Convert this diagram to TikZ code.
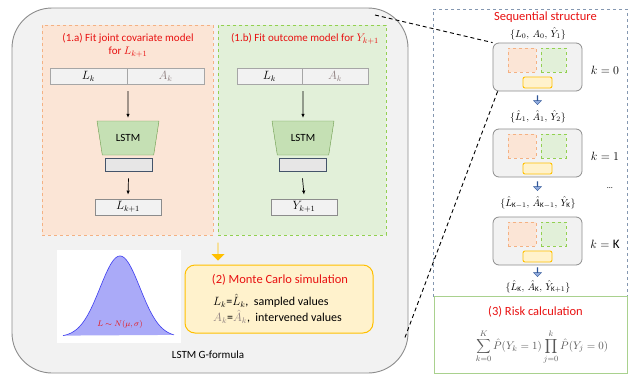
\documentclass[tikz,border=0pt]{standalone}
\usepackage{fontspec}
\setmainfont{Carlito}
\usetikzlibrary{shapes.geometric,shapes.arrows,arrows.meta}

\definecolor{mainfill}{HTML}{F2F2F2}
\definecolor{mainline}{HTML}{8C8C8C}
\definecolor{covfill}{HTML}{FBE5D6}
\definecolor{covline}{HTML}{F4B183}
\definecolor{yfill}{HTML}{E2F0D9}
\definecolor{yline}{HTML}{92D050}
\definecolor{lstmfill}{HTML}{C5E0B4}
\definecolor{lstmline}{HTML}{6A9A4A}
\definecolor{hidfill}{HTML}{E7E6E6}
\definecolor{hidline}{HTML}{44546A}
\definecolor{cellline}{HTML}{A6A6A6}
\definecolor{titlered}{HTML}{E81010}
\definecolor{agray}{HTML}{8E7F7F}
\definecolor{gold}{HTML}{FFC000}
\definecolor{mcfill}{HTML}{FFF2CC}
\definecolor{gaussfill}{HTML}{AAAAF8}
\definecolor{gaussline}{HTML}{3C3CF0}
\definecolor{seqline}{HTML}{8497B0}
\definecolor{riskline}{HTML}{A9D18E}
\definecolor{bluearr}{HTML}{8FAADC}
\definecolor{bluearrline}{HTML}{2F5597}
\definecolor{formgray}{HTML}{595959}

\tikzstyle{mainbox}=[draw=mainline, fill=mainfill, line width=0.9pt, rounded corners=40pt, minimum width=396pt, minimum height=365pt]
\tikzstyle{covbox}=[draw=covline, fill=covfill, dashed, line width=0.7pt, minimum width=171pt, minimum height=210pt]
\tikzstyle{ybox}=[draw=yline, fill=yfill, dashed, line width=0.7pt, minimum width=168pt, minimum height=210pt]
\tikzstyle{title}=[text=titlered, font=\fontsize{11}{13}\selectfont, align=center, inner sep=1pt]
\tikzstyle{cell}=[draw=cellline, fill=mainfill, line width=0.8pt, minimum height=16pt, inner sep=0pt, font=\fontsize{12}{14}\selectfont]
\tikzstyle{lstm}=[trapezium, shape border rotate=180, trapezium angle=77, trapezium stretches=true, draw=lstmline, fill=lstmfill, minimum width=62pt, minimum height=34pt, font=\fontsize{11}{13}\selectfont]
\tikzstyle{hid}=[draw=hidline, fill=hidfill, line width=0.8pt, minimum width=47pt, minimum height=13pt, inner sep=0pt]
\tikzstyle{outcell}=[draw=mainline, fill=mainfill, line width=0.8pt, minimum width=66pt, minimum height=16pt, inner sep=0pt, font=\fontsize{12}{14}\selectfont]
\tikzstyle{arr}=[-{Latex[length=4pt,width=3.5pt]}, line width=0.7pt]
\tikzstyle{mcbox}=[draw=gold, fill=mcfill, line width=1pt, rounded corners=10pt, minimum width=188pt, minimum height=68pt]
\tikzstyle{mctext}=[anchor=west, inner sep=0pt, font=\fontsize{12}{14}\selectfont]
\tikzstyle{seqbox}=[draw=seqline, dashed, line width=0.8pt, minimum width=194pt, minimum height=287pt]
\tikzstyle{riskbox}=[draw=riskline, line width=0.8pt, minimum width=193pt, minimum height=77pt]
\tikzstyle{block}=[draw=mainline, fill=mainfill, line width=0.8pt, rounded corners=6pt, minimum width=89pt, minimum height=48pt]
\tikzstyle{minicov}=[draw=covline, fill=covfill, dashed, line width=0.6pt, minimum width=28pt, minimum height=24pt]
\tikzstyle{miniy}=[draw=yline, fill=yfill, dashed, line width=0.6pt, minimum width=25pt, minimum height=24pt]
\tikzstyle{minimc}=[draw=gold, fill=mcfill, line width=0.9pt, rounded corners=2pt, minimum width=29pt, minimum height=11pt]
\tikzstyle{setlab}=[font=\fontsize{10}{12}\selectfont, inner sep=1pt]
\tikzstyle{klab}=[font=\fontsize{13}{15}\selectfont]
\tikzstyle{downblue}=[single arrow, shape border rotate=270, draw=bluearrline, fill=bluearr, minimum height=9pt, minimum width=8pt, single arrow head extend=2pt, inner sep=0pt, line width=0.4pt]
\tikzstyle{zoomline}=[dash pattern=on 4pt off 3pt, line width=0.9pt]

\begin{document}
\begin{tikzpicture}[x=1pt, y=-1pt]
\useasboundingbox (0,0) rectangle (628,375);

\node[mainbox] (main) at (210,190.5) {};
\node[covbox] (cov) at (127.5,130) {};
\node[ybox] (out) at (302,130) {};

\node[title] (covtitle) at (128,45.5) {(1.a) Fit joint covariate model\\for $L_{k+1}$};
\node[title] (outtitle) at (305,39) {(1.b) Fit outcome model for $Y_{k+1}$};

\node[cell, minimum width=77pt] (cl) at (88.5,76) {$L_k$};
\node[cell, minimum width=77pt, text=agray] (ca) at (165.5,76) {$A_k$};
\node[cell, minimum width=65pt] (ol) at (269.5,76) {$L_k$};
\node[cell, minimum width=66pt, text=agray] (oa) at (335,76) {$A_k$};

\node[lstm] (lstmc) at (128,138) {LSTM};
\node[lstm] (lstmo) at (303,138) {LSTM};
\node[hid] (hidc) at (128.5,164.5) {};
\node[hid] (hido) at (302.5,164.5) {};
\node[outcell] (lnext) at (128,207) {$L_{k+1}$};
\node[outcell] (ynext) at (304,207) {$Y_{k+1}$};

\coordinate (sc) at (128,91);
\coordinate (so) at (303,91);
\draw[arr] (sc) -- ([yshift=3pt]lstmc.north);
\draw[arr] (so) -- ([yshift=3pt]lstmo.north);
\draw[arr] ([yshift=-7pt]hidc.south) -- ([yshift=4pt]lnext.north);
\draw[arr] ([yshift=-7pt]hido.south) -- ([yshift=4pt]ynext.north);

\node[single arrow, shape border rotate=270, fill=gold, minimum height=18pt, minimum width=13pt, single arrow head extend=3pt, inner sep=0pt] (mcdown) at (218,251.5) {};
\node[mcbox] (mc) at (279,299) {};
\node[title, font=\fontsize{12.5}{14}\selectfont] (mctitle) at (280,280) {(2) Monte Carlo simulation};
\node[mctext] (mcl) at (213,301) {$L_k$=$\hat{L}_k$,\ \ sampled values};
\node[mctext] (mca) at (213,317) {$\textcolor{agray}{A_k}$=$\textcolor{agray}{\hat{A}_k}$,\ \ intervened values};

\node[fill=white, minimum width=124pt, minimum height=93pt] (gauss) at (119,296.5) {};
\fill[gaussfill] plot[domain=63:174, samples=90] (\x, {337-81*exp(-((\x-120)/20)^2/2)}) -- cycle;
\draw[gaussline, line width=0.6pt] plot[domain=63:174, samples=90] (\x, {337-81*exp(-((\x-120)/20)^2/2)});
\node[text=titlered, font=\footnotesize] (glabel) at (120,324) {$L\sim N(\mu,\sigma)$};
\node[font=\fontsize{11}{13}\selectfont] (gname) at (208,355) {LSTM G-formula};

\node[seqbox] (seq) at (530,152.5) {};
\node[riskbox] (risk) at (530.5,334.5) {};
\node[title, font=\fontsize{12.5}{14}\selectfont] (seqtitle) at (545.5,17) {Sequential structure};

\foreach \n/\y/\k in {b0/67/0, b1/153/1, bK/241/\mathrm{K}} {
  \node[block] (\n) at (537.5,\y) {};
  \node[minicov] (\n c) at (522,\y-7) {};
  \node[miniy] (\n y) at (553.5,\y-7) {};
  \node[minimc] (\n m) at (537.5,\y+15.5) {};
  \node[klab] (\n k) at (605,\y+3) {$k=\k$};
}

\node[setlab] (set0) at (538,34) {$\{L_0,\,A_0,\,\hat{Y}_1\}$};
\node[downblue] (d0) at (537.5,100) {};
\node[setlab] (set1) at (538,117) {$\{\hat{L}_1,\,\hat{A}_1,\,\hat{Y}_2\}$};
\node[downblue] (d1) at (537.5,186) {};
\node (dots) at (610,188) {\footnotesize\dots};
\node[setlab] (setk1) at (538,203) {$\{\hat{L}_{\mathrm{K}-1},\,\hat{A}_{\mathrm{K}-1},\,\hat{Y}_{\mathrm{K}}\}$};
\node[downblue] (d2) at (537.5,272) {};
\node[setlab] (setk) at (538,287) {$\{\hat{L}_{\mathrm{K}},\,\hat{A}_{\mathrm{K}},\,\hat{Y}_{\mathrm{K}+1}\}$};

\node[title, font=\fontsize{12.5}{14}\selectfont] (risktitle) at (535.5,312) {(3) Risk calculation};
\node[text=formgray, font=\fontsize{11}{13}\selectfont] (riskf) at (542,347) {$\displaystyle\sum_{k=0}^{K}\hat{P}(Y_k=1)\prod_{j=0}^{k}\hat{P}(Y_j=0)$};

\coordinate (z1) at (375,15);
\coordinate (z2) at (404,340);
\draw[zoomline] (z1) -- (b0.north west);
\draw[zoomline] ([xshift=5pt]b0.south west) -- (z2);
\end{tikzpicture}
\end{document}
